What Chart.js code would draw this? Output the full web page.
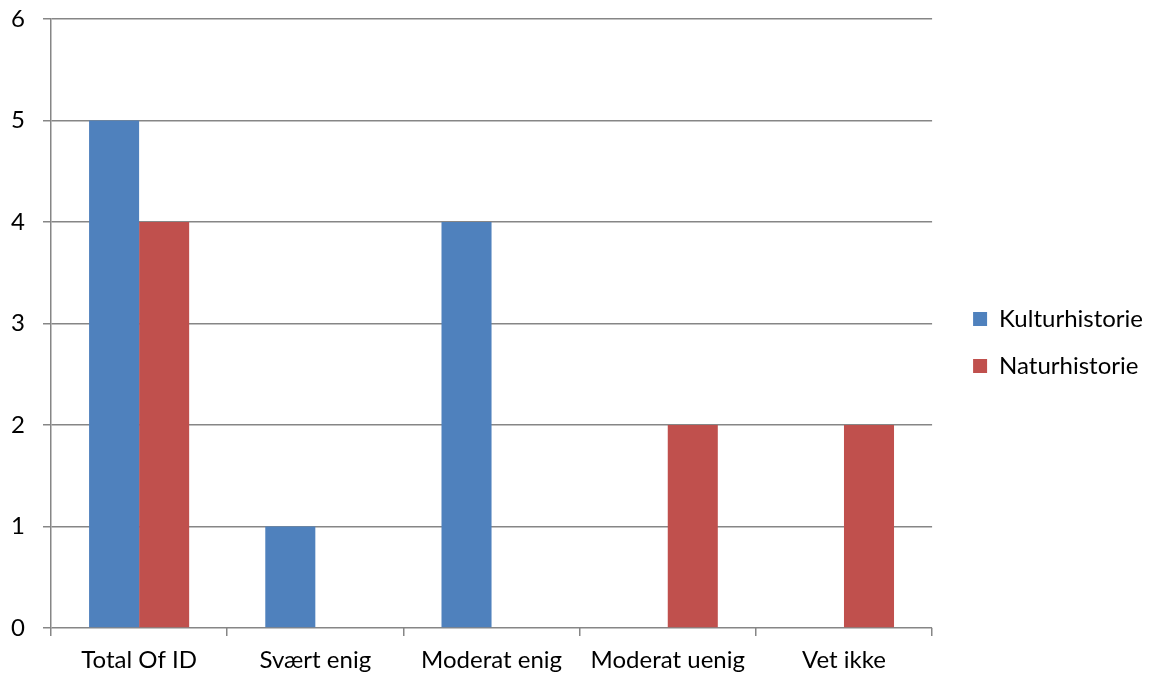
<!DOCTYPE html>
<html>
<head>
<meta charset="utf-8">
<script src="https://cdn.jsdelivr.net/npm/chart.js@4/dist/chart.umd.min.js"></script>
<style>
  html, body { margin: 0; padding: 0; background: #fff; }
  #wrap { width: 1149px; height: 678px; position: relative; }
</style>
</head>
<body>
<div id="wrap"><canvas id="c" width="1149" height="678"></canvas></div>
<script>
const categories = ["Total Of ID", "Svært enig", "Moderat enig", "Moderat uenig", "Vet ikke"];
const kulturhistorie = [5, 1, 4, null, null];
const naturhistorie = [4, null, null, 2, 2];
const seriesNames = ["Kulturhistorie", "Naturhistorie"];
const yTicks = [0, 1, 2, 3, 4, 5, 6];

const FONT = "Lato, 'Open Sans', sans-serif";
const gridColor = "#868686";

const legendShift = {
  id: "legendShift",
  afterLayout(chart) {
    if (chart.legend) {
      chart.legend.left += 18; chart.legend.right += 18;
      chart.legend.top -= 6; chart.legend.bottom -= 6;
    }
  }
};

new Chart(document.getElementById("c"), {
  type: "bar",
  data: {
    labels: categories,
    datasets: [
      { label: seriesNames[0], data: kulturhistorie, backgroundColor: "#4F81BD", borderWidth: 0 },
      { label: seriesNames[1], data: naturhistorie, backgroundColor: "#C0504D", borderWidth: 0 }
    ]
  },
  plugins: [legendShift],
  options: {
    responsive: false,
    animation: false,
    layout: { padding: { top: 19, left: 0, right: 14, bottom: 0 } },
    datasets: { bar: { categoryPercentage: 0.568, barPercentage: 1.0 } },
    plugins: {
      legend: {
        position: "right",
        align: "center",
        labels: {
          boxWidth: 14, boxHeight: 14, padding: 23,
          color: "#000",
          font: { family: FONT, size: 24 }
        }
      },
      tooltip: { enabled: false }
    },
    scales: {
      x: {
        grid: { display: true, drawOnChartArea: false, drawTicks: true, tickLength: 8, color: gridColor, lineWidth: 1.5, offset: true },
        border: { display: false },
        ticks: { color: "#000", font: { family: FONT, size: 24 }, padding: 10, maxRotation: 0 },
        afterFit: (s) => { s.height = 50; s.paddingLeft = 0; s.paddingRight = 0; }
      },
      y: {
        min: 0, max: 6,
        afterBuildTicks: (s) => { s.ticks = yTicks.map(v => ({ value: v })); },
        grid: { color: gridColor, tickLength: 8, drawTicks: true, lineWidth: 1.5 },
        border: { display: true, color: gridColor, width: 1.5 },
        ticks: { color: "#000", font: { family: FONT, size: 24 }, padding: 18 },
        afterFit: (s) => { s.width = 51; s.paddingTop = 0; s.paddingBottom = 0; }
      }
    }
  }
});
</script>
</body>
</html>
